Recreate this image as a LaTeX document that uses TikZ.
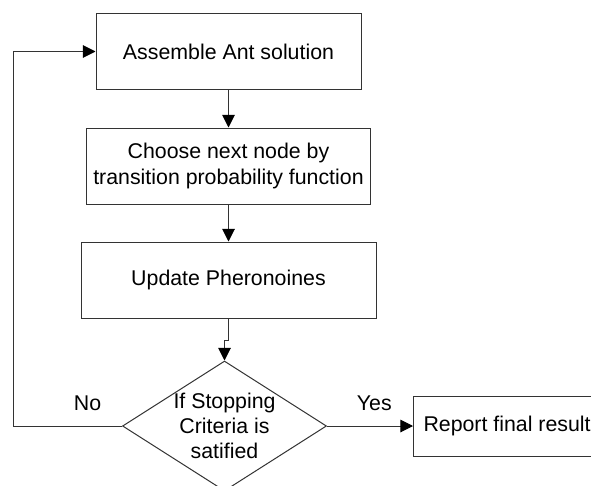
\documentclass[tikz,border=0pt]{standalone}
\usepackage{fontspec}
\setmainfont{Liberation Sans}
\usetikzlibrary{shapes.geometric,arrows.meta,positioning}
\tikzset{
  stepbox/.style={draw=black!80, line width=0.75pt, align=center, minimum height=57pt, font=\fontsize{16}{19.5}\selectfont},
  decision/.style={draw=black!80, line width=0.75pt, diamond, minimum width=153pt, minimum height=97.5pt, inner sep=0pt},
  lbl/.style={inner sep=0pt, font=\fontsize{16}{18.75}\selectfont},
  arr/.style={-{Triangle[length=9.5pt,width=9.5pt,color=black]}, line width=0.75pt, draw=black!80},
}

\begin{document}
\begin{tikzpicture}[x=0.75pt,y=-0.75pt]
\useasboundingbox (0,0) rectangle (591,485);
% Steps
\draw(228.5,51.5) node[stepbox, minimum width=198.75pt, minimum height=56.25pt](asm){Assemble Ant solution};
\node[below=28.5pt of asm, stepbox, minimum width=213pt](nxt){Choose next node by\\transition probability function};
\node[below=27.75pt of nxt, stepbox, minimum width=221.25pt](upd){Update Pheronoines};
\node[below=31.5pt of upd, xshift=-3pt, decision, label={[lbl, align=center]center:{If Stopping\\Criteria is\\satified}}](chk){};
\node[right=64.5pt of chk, stepbox, minimum height=45pt, inner xsep=7.5pt](rep){Report final result};
% Labels
\node[lbl, above left=11.6pt and 15.4pt of chk.west](no){No};
\node[lbl, above right=11.6pt and 22.2pt of chk.east](yes){Yes};
% Arrows
\draw[arr] (asm.south) -- (nxt.north);
\draw[arr] (nxt.south) -- (upd.north);
\draw[arr] (upd.south) -- ++(0,22) -| (chk.north);
\draw[arr] (chk.east) -- (rep.west);
\draw[arr] (chk.west) -- ++(-109,0) |- (asm.west);
\end{tikzpicture}
\end{document}
